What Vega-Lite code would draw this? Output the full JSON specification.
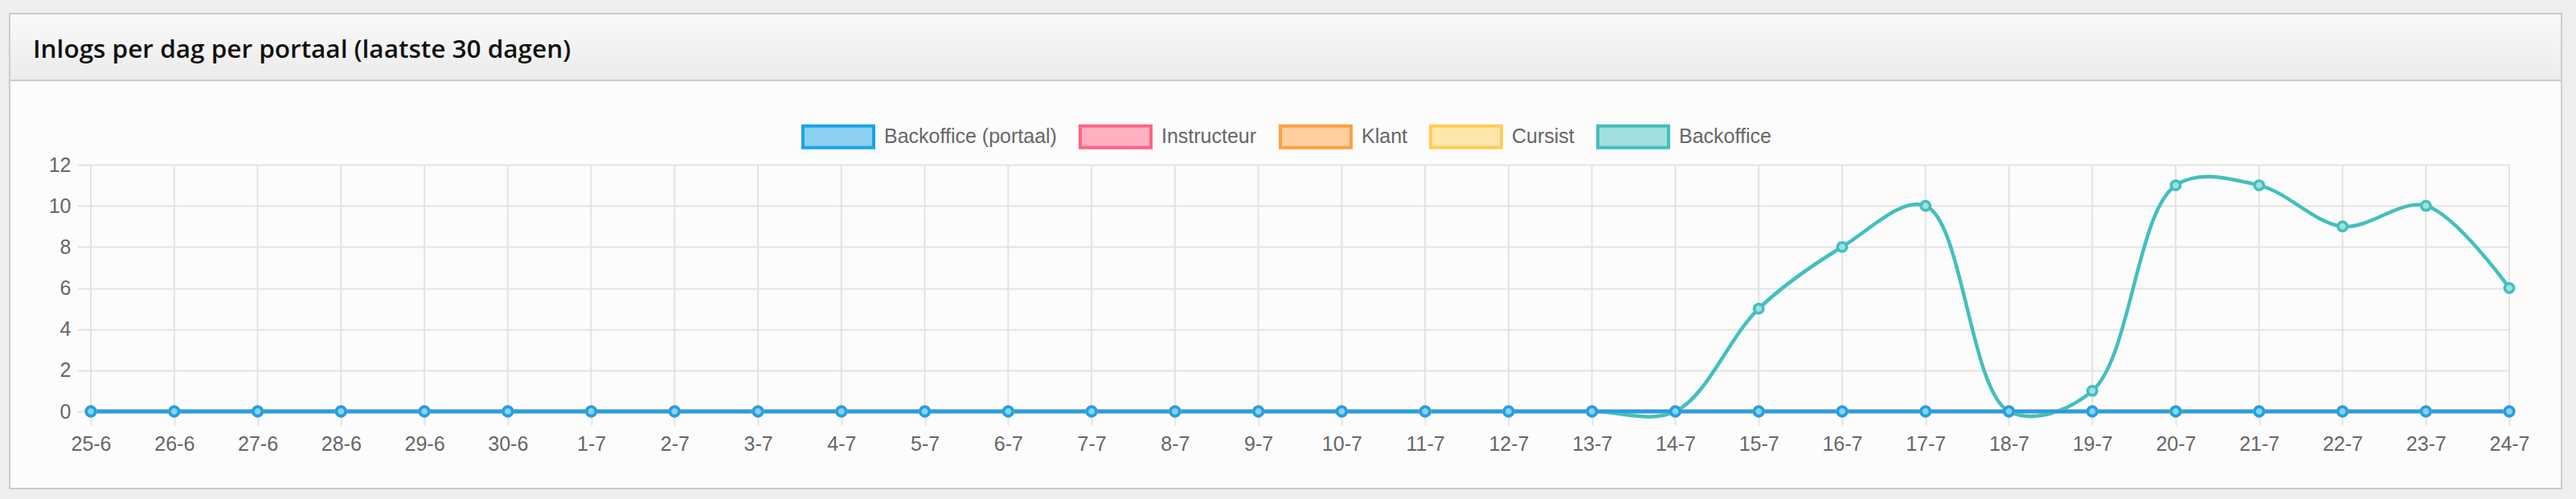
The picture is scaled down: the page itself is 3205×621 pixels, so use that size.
{
  "$schema": "https://vega.github.io/schema/vega-lite/v6.json",
  "width": 3175,
  "height": 591,
  "autosize": {"type": "none"},
  "padding": {"left": 12, "top": 17, "right": 18, "bottom": 13},
  "background": "#eeeeee",
  "title": {
    "text": "Inlogs per dag per portaal (laatste 30 dagen)",
    "anchor": "start",
    "frame": "group",
    "dx": 29,
    "offset": -86,
    "baseline": "alphabetic",
    "font": "Open Sans",
    "fontSize": 31.5,
    "fontWeight": 600,
    "color": "#111111"
  },
  "config": {
    "view": {
      "fill": {
        "gradient": "linear", "x1": 0, "y1": 0, "x2": 0, "y2": 1,
        "stops": [
          {"offset": 0, "color": "#fafafa"},
          {"offset": 0.1387, "color": "#ebebeb"},
          {"offset": 0.1387, "color": "#cccccc"},
          {"offset": 0.1421, "color": "#cccccc"},
          {"offset": 0.1421, "color": "#fcfcfc"},
          {"offset": 1, "color": "#fcfcfc"}
        ]
      },
      "stroke": "#cccccc",
      "strokeWidth": 2
    }
  },
  "data": {
    "values": [
      {"dag": "25-6", "Backoffice (portaal)": 0, "Instructeur": 0, "Klant": 0, "Cursist": 0, "Backoffice": 0},
      {"dag": "26-6", "Backoffice (portaal)": 0, "Instructeur": 0, "Klant": 0, "Cursist": 0, "Backoffice": 0},
      {"dag": "27-6", "Backoffice (portaal)": 0, "Instructeur": 0, "Klant": 0, "Cursist": 0, "Backoffice": 0},
      {"dag": "28-6", "Backoffice (portaal)": 0, "Instructeur": 0, "Klant": 0, "Cursist": 0, "Backoffice": 0},
      {"dag": "29-6", "Backoffice (portaal)": 0, "Instructeur": 0, "Klant": 0, "Cursist": 0, "Backoffice": 0},
      {"dag": "30-6", "Backoffice (portaal)": 0, "Instructeur": 0, "Klant": 0, "Cursist": 0, "Backoffice": 0},
      {"dag": "1-7", "Backoffice (portaal)": 0, "Instructeur": 0, "Klant": 0, "Cursist": 0, "Backoffice": 0},
      {"dag": "2-7", "Backoffice (portaal)": 0, "Instructeur": 0, "Klant": 0, "Cursist": 0, "Backoffice": 0},
      {"dag": "3-7", "Backoffice (portaal)": 0, "Instructeur": 0, "Klant": 0, "Cursist": 0, "Backoffice": 0},
      {"dag": "4-7", "Backoffice (portaal)": 0, "Instructeur": 0, "Klant": 0, "Cursist": 0, "Backoffice": 0},
      {"dag": "5-7", "Backoffice (portaal)": 0, "Instructeur": 0, "Klant": 0, "Cursist": 0, "Backoffice": 0},
      {"dag": "6-7", "Backoffice (portaal)": 0, "Instructeur": 0, "Klant": 0, "Cursist": 0, "Backoffice": 0},
      {"dag": "7-7", "Backoffice (portaal)": 0, "Instructeur": 0, "Klant": 0, "Cursist": 0, "Backoffice": 0},
      {"dag": "8-7", "Backoffice (portaal)": 0, "Instructeur": 0, "Klant": 0, "Cursist": 0, "Backoffice": 0},
      {"dag": "9-7", "Backoffice (portaal)": 0, "Instructeur": 0, "Klant": 0, "Cursist": 0, "Backoffice": 0},
      {"dag": "10-7", "Backoffice (portaal)": 0, "Instructeur": 0, "Klant": 0, "Cursist": 0, "Backoffice": 0},
      {"dag": "11-7", "Backoffice (portaal)": 0, "Instructeur": 0, "Klant": 0, "Cursist": 0, "Backoffice": 0},
      {"dag": "12-7", "Backoffice (portaal)": 0, "Instructeur": 0, "Klant": 0, "Cursist": 0, "Backoffice": 0},
      {"dag": "13-7", "Backoffice (portaal)": 0, "Instructeur": 0, "Klant": 0, "Cursist": 0, "Backoffice": 0},
      {"dag": "14-7", "Backoffice (portaal)": 0, "Instructeur": 0, "Klant": 0, "Cursist": 0, "Backoffice": 0},
      {"dag": "15-7", "Backoffice (portaal)": 0, "Instructeur": 0, "Klant": 0, "Cursist": 0, "Backoffice": 5},
      {"dag": "16-7", "Backoffice (portaal)": 0, "Instructeur": 0, "Klant": 0, "Cursist": 0, "Backoffice": 8},
      {"dag": "17-7", "Backoffice (portaal)": 0, "Instructeur": 0, "Klant": 0, "Cursist": 0, "Backoffice": 10},
      {"dag": "18-7", "Backoffice (portaal)": 0, "Instructeur": 0, "Klant": 0, "Cursist": 0, "Backoffice": 0},
      {"dag": "19-7", "Backoffice (portaal)": 0, "Instructeur": 0, "Klant": 0, "Cursist": 0, "Backoffice": 1},
      {"dag": "20-7", "Backoffice (portaal)": 0, "Instructeur": 0, "Klant": 0, "Cursist": 0, "Backoffice": 11},
      {"dag": "21-7", "Backoffice (portaal)": 0, "Instructeur": 0, "Klant": 0, "Cursist": 0, "Backoffice": 11},
      {"dag": "22-7", "Backoffice (portaal)": 0, "Instructeur": 0, "Klant": 0, "Cursist": 0, "Backoffice": 9},
      {"dag": "23-7", "Backoffice (portaal)": 0, "Instructeur": 0, "Klant": 0, "Cursist": 0, "Backoffice": 10},
      {"dag": "24-7", "Backoffice (portaal)": 0, "Instructeur": 0, "Klant": 0, "Cursist": 0, "Backoffice": 6}
    ]
  },
  "transform": [
    {"fold": ["Backoffice", "Cursist", "Klant", "Instructeur", "Backoffice (portaal)"], "as": ["portaal", "inlogs"]}
  ],
  "encoding": {
    "x": {
      "field": "dag", "type": "nominal", "sort": null,
      "scale": {"type": "point", "range": [101, 3110], "padding": 0},
      "axis": {
        "orient": "bottom", "offset": -96, "title": null, "domain": false,
        "grid": false,
        "ticks": true, "tickColor": "#e3e3e3", "tickWidth": 2, "tickSize": 17,
        "labelPadding": 11, "labelAngle": 0, "labelFont": "Liberation Sans", "labelFontSize": 25,
        "labelColor": "#666666", "labelOverlap": false, "labelFlush": false, "labelBound": false
      }
    },
    "y": {
      "field": "inlogs", "type": "quantitative",
      "scale": {"domain": [0, 12], "range": [495, 188], "nice": false, "zero": true},
      "axis": {
        "orient": "left", "offset": -101, "title": null, "domain": false,
        "values": [0, 2, 4, 6, 8, 10, 12],
        "grid": true, "gridColor": "#e3e3e3", "gridWidth": 2,
        "ticks": true, "tickColor": "#e3e3e3", "tickWidth": 2, "tickSize": 17,
        "labelPadding": 8, "labelFont": "Liberation Sans", "labelFontSize": 25,
        "labelColor": "#666666", "labelOverlap": false, "labelFlush": false, "labelBound": false
      }
    },
    "color": {
      "field": "portaal", "type": "nominal",
      "scale": {
        "domain": ["Backoffice (portaal)", "Instructeur", "Klant", "Cursist", "Backoffice"],
        "range": ["#18a4e8", "#ff6384", "#ff9f40", "#ffcd56", "#42bfbe"]
      },
      "legend": {
        "orient": "none", "legendX": 985, "legendY": 107, "direction": "horizontal", "title": null,
        "symbolType": "M-1,-0.307H1V0.307H-1Z", "symbolSize": 7744, "symbolStrokeWidth": 4,
        "labelFont": "Liberation Sans", "labelFontSize": 25, "labelColor": "#666666",
        "labelOffset": 11, "columnPadding": 21, "padding": 0, "labelLimit": 1000
      }
    }
  },
  "layer": [
    {
      "transform": [{"filter": "datum.portaal == 'Backoffice'"}],
      "mark": {"type": "rule", "strokeWidth": 2},
      "encoding": {
        "y": {"datum": 0},
        "y2": {"datum": 12},
        "color": {"value": "#e3e3e3"}
      }
    },
    {
      "mark": {"type": "line", "interpolate": "catmull-rom", "strokeWidth": 4.5}
    },
    {
      "mark": {"type": "point", "filled": false, "size": 130, "strokeWidth": 3.5, "opacity": 1},
      "encoding": {
        "fill": {
          "field": "portaal", "type": "nominal",
          "scale": {
            "domain": ["Backoffice (portaal)", "Instructeur", "Klant", "Cursist", "Backoffice"],
            "range": ["#8cd0f2", "#ffb1c1", "#ffcf9f", "#ffe6aa", "#a0dfde"]
          },
          "legend": {
            "orient": "none", "legendX": 985, "legendY": 107, "direction": "horizontal", "title": null,
            "symbolType": "M-1,-0.307H1V0.307H-1Z", "symbolSize": 7744, "symbolStrokeWidth": 4,
            "labelFont": "Liberation Sans", "labelFontSize": 25, "labelColor": "#666666",
            "labelOffset": 11, "columnPadding": 21, "padding": 0, "labelLimit": 1000
          }
        }
      }
    }
  ]
}
